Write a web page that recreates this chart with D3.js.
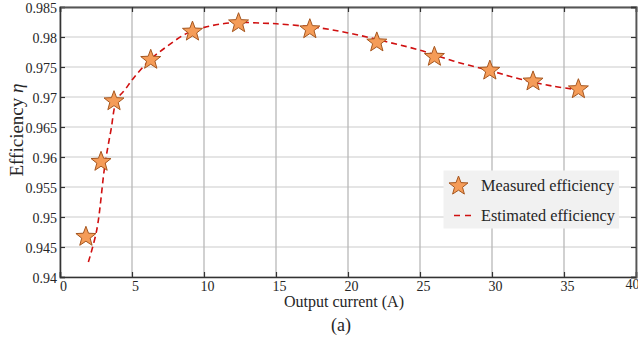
<!DOCTYPE html>
<html>
<head>
<meta charset="utf-8">
<script src="https://cdn.jsdelivr.net/npm/d3@7"></script>
<style>
  html, body { margin: 0; padding: 0; background: #fff; }
  svg { display: block; }
  text { font-family: "Liberation Serif", "Times New Roman", serif; fill: #262626; }
</style>
</head>
<body>
<svg id="chart" width="638" height="339"></svg>
<script>
// Measured converter efficiency vs. output current
const measuredCurrent = [1.8, 2.85, 3.75, 6.3, 9.2, 12.4, 17.35, 22.0, 26.0, 29.85, 32.85, 36.0];
const measuredEfficiency = [0.9467, 0.9592, 0.9693, 0.9762, 0.9809, 0.9823, 0.9813, 0.9791, 0.9767, 0.9744, 0.9726, 0.9713];

// Loss-model estimate of the efficiency curve
const estimatedCurrent = [1.97, 2.55, 3.12, 3.54, 3.94, 4.51, 5.09, 6.25, 7.41, 8.8, 10.19, 12.04, 14.1, 15.05, 18.06, 20.37, 22.69, 25.0, 27.31, 29.86, 31.94, 34.26, 36.34];
const estimatedEfficiency = [0.9425, 0.9478, 0.9587, 0.9645, 0.9695, 0.9712, 0.9731, 0.9762, 0.9784, 0.9806, 0.9817, 0.9824, 0.9823, 0.9822, 0.9815, 0.9805, 0.9792, 0.9778, 0.9760, 0.9744, 0.9730, 0.9718, 0.9711];

const xTicks = [0, 5, 10, 15, 20, 25, 30, 35, 40];
const yTicks = [0.94, 0.945, 0.95, 0.955, 0.96, 0.965, 0.97, 0.975, 0.98, 0.985];
const yTickLabels = ["0.94", "0.945", "0.95", "0.955", "0.96", "0.965", "0.97", "0.975", "0.98", "0.985"];

const svg = d3.select("#chart");
const plotLeft = 60, plotRight = 636, plotTop = 7, plotBottom = 277;

const x = d3.scaleLinear().domain([0, 40]).range([plotLeft, plotRight]);
const y = d3.scaleLinear().domain([0.94, 0.985]).range([plotBottom, plotTop]);

// grid
const grid = svg.append("g");
grid.selectAll("line.gy").data(yTicks).join("line")
  .attr("x1", plotLeft).attr("x2", plotRight)
  .attr("y1", d => y(d)).attr("y2", d => y(d))
  .attr("stroke", "#dcdcdc").attr("stroke-width", 1.6);
grid.selectAll("line.gx").data(xTicks).join("line")
  .attr("x1", d => x(d)).attr("x2", d => x(d))
  .attr("y1", plotTop).attr("y2", plotBottom)
  .attr("stroke", "#b8b8b8").attr("stroke-width", 1.3);

// axes (ticks pointing inward on all sides)
const tickLen = 5;
const axisColor = "#333";
const xAxis = svg.append("g").attr("transform", `translate(0,${plotBottom})`)
  .call(d3.axisBottom(x).tickValues(xTicks).tickSize(-tickLen).tickFormat(d3.format("d")));
xAxis.selectAll("text").attr("font-size", 14).attr("y", 4).attr("dy", "0.71em").attr("dx", 3);
xAxis.selectAll(".tick").filter(d => d === 40).select("text").attr("dx", -4).attr("y", 2);

const yAxis = svg.append("g").attr("transform", `translate(${plotLeft},0)`)
  .call(d3.axisLeft(y).tickValues(yTicks).tickSize(-tickLen).tickFormat((d, i) => yTickLabels[i]));
yAxis.selectAll("text").attr("font-size", 14).attr("x", -3).attr("dy", "0.38em");

const xTop = svg.append("g").attr("transform", `translate(0,${plotTop})`)
  .call(d3.axisTop(x).tickValues(xTicks).tickSize(-tickLen).tickFormat(""));
const yRight = svg.append("g").attr("transform", `translate(${plotRight},0)`)
  .call(d3.axisRight(y).tickValues(yTicks).tickSize(-tickLen).tickFormat(""));

[xAxis, yAxis, xTop, yRight].forEach(g => {
  g.attr("font-family", null).attr("font-size", null);
  g.select(".domain").attr("stroke", axisColor).attr("stroke-width", 1.6);
  g.selectAll(".tick line").attr("stroke", axisColor).attr("stroke-width", 1.2);
  g.selectAll("text").attr("fill", "#262626").style("font-family", "'Liberation Serif', serif");
});
[xTop, yRight].forEach(g => g.select(".domain").attr("stroke", "#555").attr("stroke-width", 1.8));

// estimated curve
const line = d3.line()
  .x((d, i) => x(estimatedCurrent[i]))
  .y(d => y(d))
  .curve(d3.curveCatmullRom.alpha(0.5));
svg.append("path")
  .datum(estimatedEfficiency)
  .attr("d", line)
  .attr("fill", "none")
  .attr("stroke", "#d01010")
  .attr("stroke-width", 1.6)
  .attr("stroke-dasharray", "6,4");

// five-pointed star marker
function starPath(R, ratio) {
  const r = R * ratio;
  const pts = [];
  for (let k = 0; k < 10; k++) {
    const a = -Math.PI / 2 + k * Math.PI / 5;
    const rr = k % 2 === 0 ? R : r;
    pts.push([rr * Math.cos(a), rr * Math.sin(a)]);
  }
  return "M" + pts.map(p => p[0].toFixed(2) + "," + p[1].toFixed(2)).join("L") + "Z";
}
const starD = starPath(10.5, 0.42);
const starFill = "#f59c58", starStroke = "#a5561f";

svg.append("g").selectAll("path")
  .data(measuredEfficiency)
  .join("path")
  .attr("d", starD)
  .attr("transform", (d, i) => `translate(${x(measuredCurrent[i])},${y(d)})`)
  .attr("fill", starFill)
  .attr("stroke", starStroke)
  .attr("stroke-width", 1);

// legend
const legend = svg.append("g");
legend.append("rect")
  .attr("x", 443.5).attr("y", 170.5).attr("width", 175.5).attr("height", 58)
  .attr("fill", "#f1f1f1");
legend.append("path")
  .attr("d", starPath(10, 0.42))
  .attr("transform", "translate(458.5,186)")
  .attr("fill", starFill).attr("stroke", starStroke).attr("stroke-width", 1);
legend.append("line")
  .attr("x1", 454).attr("x2", 472).attr("y1", 215.5).attr("y2", 215.5)
  .attr("stroke", "#d01010").attr("stroke-width", 1.6).attr("stroke-dasharray", "6,5");
legend.append("text").attr("x", 481).attr("y", 191).attr("font-size", 16.3).text("Measured efficiency");
legend.append("text").attr("x", 481).attr("y", 221).attr("font-size", 16.3).text("Estimated efficiency");

// axis titles
svg.append("text")
  .attr("x", 344).attr("y", 307)
  .attr("text-anchor", "middle").attr("font-size", 16)
  .text("Output current (A)");
svg.append("text")
  .attr("x", 341).attr("y", 331)
  .attr("text-anchor", "middle").attr("font-size", 18)
  .text("(a)");
const yl = svg.append("text")
  .attr("transform", "translate(23,130) rotate(-90)")
  .attr("text-anchor", "middle").attr("font-size", 19);
yl.append("tspan").text("Efficiency ");
yl.append("tspan").attr("font-style", "italic").text("η");
</script>
</body>
</html>
